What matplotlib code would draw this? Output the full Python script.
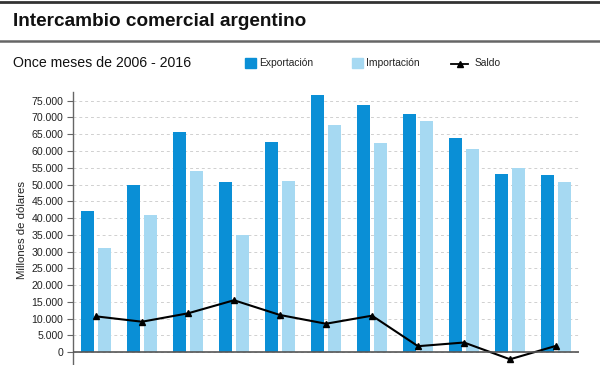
import matplotlib
matplotlib.use('Agg')
import matplotlib.pyplot as plt
from matplotlib.ticker import FuncFormatter
import numpy as np

years = ['2006', '2007', '2008', '2009', '2010', '2011', '2012', '2013', '2014', '2015', '2016']
exportacion = [42200, 49900, 65600, 50700, 62600, 76600, 73600, 71000, 63800, 53100, 52900]
importacion = [31100, 40800, 53900, 35100, 51200, 67900, 62400, 69000, 60600, 55000, 50800]
saldo = [10700, 9100, 11600, 15500, 11100, 8500, 10900, 1800, 2900, -2100, 1900]
yticks = list(range(-5000, 80000, 5000))

c_exp = '#0a8fd6'
c_imp = '#a6d9f2'
plain = ['Liberation Sans', 'DejaVu Sans']

W, H = 600, 365
fig = plt.figure(figsize=(6, 3.65), dpi=100)

# header lines
fig.add_artist(plt.Line2D([0, 1], [1 - 1.5 / H, 1 - 1.5 / H], color='#333333', lw=2))
fig.add_artist(plt.Line2D([0, 1], [1 - 40.5 / H, 1 - 40.5 / H], color='#666666', lw=1.8))
fig.text(13 / W, 1 - 21 / H, 'Intercambio comercial argentino', fontsize=13.7,
         fontweight='bold', family=plain, va='center', ha='left', color='#111111')
fig.text(13 / W, 1 - 63 / H, 'Once meses de 2006 - 2016', fontsize=10.2,
         family=plain, va='center', ha='left', color='#111111')

# axes: left 73px, right 579px, top 92px, bottom 369px
ax = fig.add_axes([73 / W, (H - 369) / H, (579 - 73) / W, (369 - 92) / H])
x = np.arange(len(years))
bw = 0.275
gap = 0.095
ax.bar(x - gap / 2 - bw / 2, exportacion, bw, color=c_exp, zorder=3, label='Exportación')
ax.bar(x + gap / 2 + bw / 2, importacion, bw, color=c_imp, zorder=3, label='Importación')
ax.plot(x, saldo, color='black', lw=1.5, marker='^', markersize=4, zorder=4, label='Saldo')
ax.axhline(0, color='#555555', lw=1.2, zorder=5)

ax.set_xlim(-0.5, 10.5)
ax.set_ylim(-5000, 77600)
ax.set_yticks(yticks)
ax.yaxis.set_major_formatter(FuncFormatter(lambda v, p: f'{int(v):,}'.replace(',', '.')))
ax.set_xticks([])
for s in ['top', 'right', 'bottom']:
    ax.spines[s].set_visible(False)
ax.spines['left'].set_color('#666666')
ax.spines['left'].set_linewidth(1)
ax.tick_params(axis='y', length=4, width=0.8, color='#666666', pad=3,
               labelsize=7.6, labelcolor='#222222')
for t in ax.get_yticklabels():
    t.set_family(plain)
ax.grid(axis='y', color='#d0d0d0', linestyle=(0, (3, 3)), lw=0.7, zorder=0)
ax.set_ylabel('Millones de dólares', fontsize=8.2, family=plain, color='#222222')
ax.yaxis.set_label_coords(-(73 - 27) / (579 - 73), (369 - 230) / (369 - 92))

# legend drawn by hand in figure coords
def sq(x0, color, label, tx):
    fig.patches.append(plt.Rectangle((x0 / W, 1 - 68 / H), 11 / W, 10 / H,
                                     transform=fig.transFigure, color=color))
    fig.text(tx / W, 1 - 63 / H, label, fontsize=7.4, family=plain, va='center', color='#222222')

sq(245, c_exp, 'Exportación', 259)
sq(352, c_imp, 'Importación', 366)
fig.add_artist(plt.Line2D([451 / W, 459.5 / W, 468 / W], [1 - 64 / H] * 3, color='black', lw=1.3,
                          marker='^', markersize=4.5, markevery=[1]))
fig.text(475 / W, 1 - 63 / H, 'Saldo', fontsize=7.4, family=plain, va='center', color='#222222')

fig.savefig('out.png', dpi=100)
